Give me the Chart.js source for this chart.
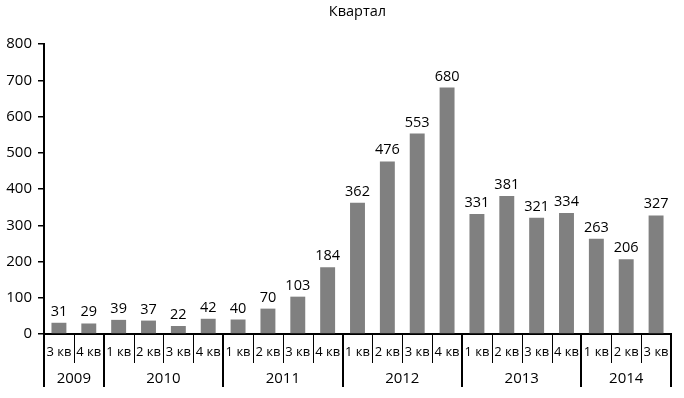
<!DOCTYPE html>
<html>
<head>
<meta charset="utf-8">
<script src="https://cdn.jsdelivr.net/npm/chart.js@4/dist/chart.umd.min.js"></script>
<style>
html,body{margin:0;padding:0;background:#fff;}
#wrap{width:684px;height:398px;position:relative;}
</style>
</head>
<body>
<div id="wrap"><canvas id="c" width="684" height="398"></canvas></div>
<script>
const title = 'Квартал';
const quarters = ['3 кв','4 кв','1 кв','2 кв','3 кв','4 кв','1 кв','2 кв','3 кв','4 кв','1 кв','2 кв','3 кв','4 кв','1 кв','2 кв','3 кв','4 кв','1 кв','2 кв','3 кв'];
const years = ['2009','2010','2011','2012','2013','2014'];
const yearSpans = [2,4,4,4,4,3];
const values = [31,29,39,37,22,42,40,70,103,184,362,476,553,680,331,381,321,334,263,206,327];

const FONT = '"Open Sans", sans-serif';

const overlay = {
  id: 'overlay',
  afterDatasetsDraw(chart) {
    const ctx = chart.ctx;
    const meta = chart.getDatasetMeta(0);
    ctx.save();
    ctx.fillStyle = '#000';
    ctx.font = '14.5px ' + FONT;
    ctx.textAlign = 'center';
    ctx.textBaseline = 'alphabetic';
    meta.data.forEach((bar, i) => {
      ctx.fillText(String(values[i]), bar.x, bar.y - 7);
    });
    ctx.restore();
  },
  afterDraw(chart) {
    const ctx = chart.ctx;
    const xs = chart.scales.x;
    const area = chart.chartArea;
    const n = quarters.length;
    const left = xs.left, right = xs.right;
    const w = (right - left) / n;
    const base = area.bottom;
    ctx.save();
    ctx.fillStyle = '#000';
    ctx.font = '14.5px ' + FONT;
    ctx.textAlign = 'center';
    ctx.textBaseline = 'middle';
    ctx.fillText(title, (area.left + area.right) / 2, 12);
    ctx.font = '13px ' + FONT;
    quarters.forEach((q, i) => {
      ctx.fillText(q, xs.getPixelForValue(i), 352);
    });
    const yearBounds = new Set();
    let acc = 0;
    yearSpans.forEach(s => { acc += s; yearBounds.add(acc); });
    yearBounds.add(0);
    ctx.strokeStyle = '#000';
    for (let i = 0; i <= n; i++) {
      const x = left + i * w;
      ctx.beginPath();
      if (yearBounds.has(i)) {
        ctx.lineWidth = 2;
        ctx.moveTo(Math.round(x), base);
        ctx.lineTo(Math.round(x), 387);
      } else {
        ctx.lineWidth = 1;
        ctx.moveTo(Math.round(x) + 0.5, base);
        ctx.lineTo(Math.round(x) + 0.5, 363);
      }
      ctx.stroke();
    }
    ctx.font = '15px ' + FONT;
    let start = 0;
    years.forEach((y, k) => {
      const s = yearSpans[k];
      const cx = left + (start + s / 2) * w;
      ctx.fillText(y, cx, 379);
      start += s;
    });
    ctx.restore();
  }
};

new Chart(document.getElementById('c'), {
  type: 'bar',
  data: {
    labels: quarters,
    datasets: [{
      data: values,
      backgroundColor: '#808080',
      borderWidth: 0,
      barPercentage: 0.5,
      categoryPercentage: 1.0
    }]
  },
  options: {
    responsive: false,
    animation: false,
    devicePixelRatio: 1,
    layout: { padding: { top: 44, right: 13, bottom: 0, left: 0 } },
    plugins: { legend: { display: false }, title: { display: false }, tooltip: { enabled: false } },
    scales: {
      x: {
        grid: { display: false },
        ticks: { display: false },
        border: { display: true, color: '#000', width: 2 },
        afterFit(scale) { scale.height = 64; }
      },
      y: {
        min: 0, max: 800,
        ticks: { stepSize: 100, color: '#000', font: { family: FONT, size: 15 }, padding: 6 },
        grid: { display: true, drawOnChartArea: false, drawTicks: true, tickLength: 6, color: '#000', lineWidth: 1.5 },
        border: { display: true, color: '#000', width: 2 },
        afterFit(scale) { scale.width = 44; }
      }
    }
  },
  plugins: [overlay]
});
</script>
</body>
</html>
